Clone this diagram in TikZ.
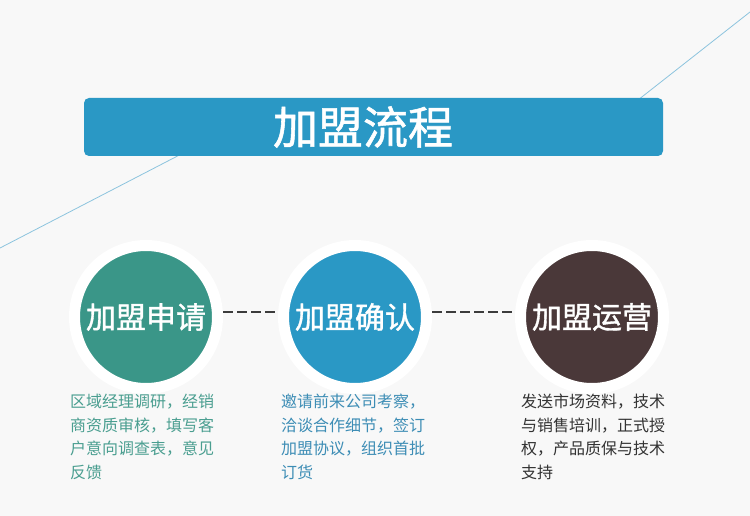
\documentclass[tikz,border=0pt]{standalone}
\usepackage{fontspec}
\setmainfont{Noto Sans CJK SC}
\newfontfamily\medcjk[FakeBold=1.2]{Noto Sans CJK SC}
\usepackage{tikz}
\usetikzlibrary{positioning,calc}
\definecolor{bgGray}{HTML}{F8F8F8}
\definecolor{bannerBlue}{HTML}{2A98C5}
\definecolor{applyTeal}{HTML}{3A9688}
\definecolor{runBrown}{HTML}{4A3839}
\definecolor{lineBlue}{HTML}{8CC4DE}
\definecolor{dashGray}{HTML}{3C3C3C}
\definecolor{applyText}{HTML}{4A9E90}
\definecolor{confirmText}{HTML}{3D8DB5}
\definecolor{runText}{HTML}{333333}

\tikzset{
  stageDisc/.style={circle,draw=white,line width=11pt,minimum size=143pt,inner sep=0pt,
    text=white,font=\medcjk\fontsize{30pt}{32pt}\selectfont},
  stageNote/.style={anchor=north west,align=left,inner sep=0pt,
    font=\fontsize{16pt}{23.5pt}\selectfont},
  stageLink/.style={dashGray,line width=2.2pt,dash pattern=on 10pt off 4pt}
}

\begin{document}
\begin{tikzpicture}[x=1pt,y=-1pt]
  \fill[bgGray] (0,0) rectangle (750,516);
  \useasboundingbox (0,0) rectangle (750,516);
  % thin diagonal line behind the banner
  \draw[lineBlue,line width=0.8pt] (0,248) -- (220,134);
  \draw[lineBlue,line width=0.8pt] (610,122) -- (750,12);
  % banner
  \fill[bannerBlue,rounded corners=5pt] (84,98) rectangle (663,156);
  \node[text=white,font=\medcjk\fontsize{45pt}{48pt}\selectfont] (title) at (363,127) {加盟流程};
  % stages
  \node[stageDisc,fill=applyTeal] (apply) at (146,317) {加盟申请};
  \node[stageDisc,fill=bannerBlue] (confirm) at (355,317) {加盟确认};
  \node[stageDisc,fill=runBrown] (run) at (592,317) {加盟运营};
  \draw[stageLink] ([yshift=5pt]apply.east) -- ([yshift=5pt]confirm.west);
  \draw[stageLink] ([yshift=5pt]confirm.east) -- ([yshift=5pt]run.west);
  % notes
  \node[stageNote,text=applyText] (applyNote) at (70,394)
    {区域经理调研，经销\\商资质审核，填写客\\户意向调查表，意见\\反馈};
  \node[stageNote,text=confirmText] (confirmNote) at (281,394)
    {邀请前来公司考察，\\洽谈合作细节，签订\\加盟协议，组织首批\\订货};
  \node[stageNote,text=runText] (runNote) at (521,394)
    {发送市场资料，技术\\与销售培训，正式授\\权，产品质保与技术\\支持};
\end{tikzpicture}
\end{document}
